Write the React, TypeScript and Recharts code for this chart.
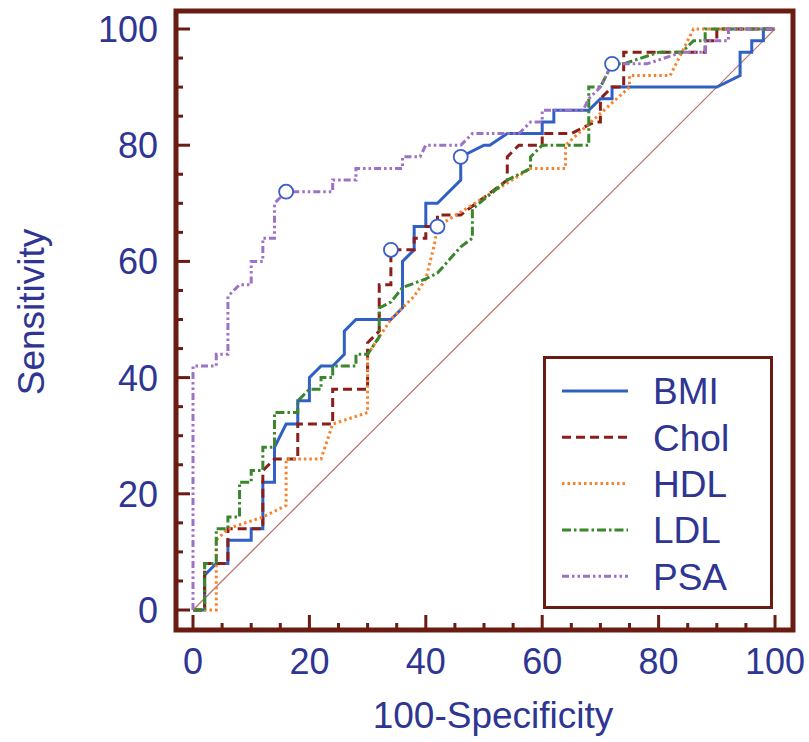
import React from 'react';
import { ComposedChart, Line, XAxis, YAxis, ReferenceLine, ReferenceArea, Legend } from 'recharts';

// ---- data ----
const bmiPoints = [[0,0],[2,0],[2,6],[4,8],[6,8],[6,12],[10,12],[10,14],[12,14],[12,22],[14,22],[14,28],[16,32],[18,32],[18,36],[20,36],[20,40],[22,42],[24,42],[26,44],[26,48],[28,50],[34,50],[36,52],[36,60],[38,62],[38,66],[40,66],[40,70],[42,70],[46,74],[46,78],[50,80],[51,80],[54,82],[60,82],[60,84],[62,84],[62,86],[68,86],[70,88],[72,88],[72,90],[90,90],[94,92],[94,96],[96,96],[96,98],[98,98],[98,100],[100,100]];
const cholPoints = [[0,0],[2,0],[2,8],[6,8],[6,14],[12,14],[12,24],[14,26],[18,26],[18,32],[24,32],[24,38],[30,38],[30,46],[32,48],[32,56],[34,56],[34,62],[38,62],[38,64],[40,64],[40,66],[42,66],[42,68],[46,68],[54,74],[54,78],[56,80],[60,80],[60,82],[65,82],[69,84],[70,84],[70,88],[72,90],[74,90],[74,96],[88,96],[88,98],[90,98],[90,100],[100,100]];
const hdlPoints = [[0,0],[4,0],[4,12],[6,14],[12,16],[16,18],[16,26],[22,26],[24,32],[30,34],[30,44],[34,50],[38,54],[40,57],[41.5,63],[42,66],[58,76],[64,76],[64,80],[75,90],[75,92],[82,92],[86,100],[100,100]];
const ldlPoints = [[0,0],[2,0],[2,8],[4,8],[4,14],[6,14],[6,16],[8,16],[8,22],[10,22],[10,24],[12,24],[12,28],[14,28],[14,34],[18,34],[18,36],[20,38],[22,38],[22,40],[24,40],[24,42],[28,42],[28,44],[30,44],[32,47],[32,52],[34,53],[36,55.5],[40,57],[42,58],[46,62.5],[48,64],[48,69],[54,74],[58,76],[58,78],[60,80],[68,80],[68,90],[70,90],[72,94],[74,94],[80,96],[84,96],[86,98],[88,98],[88,100],[100,100]];
const psaPoints = [[0,0],[0,42],[4,42],[4,44],[6,44],[6,54],[8,56],[10,56],[10,60],[12,60],[12,64],[14,64],[14,70],[16,72],[24,72],[24,74],[28,74],[28,76],[36,76],[36,78],[39,78],[40,80],[46,80],[48,82],[56,82],[58,84],[60,84],[60,86],[67,86],[68,88],[70,90],[72,94],[78,94],[84,96],[88,96],[88,98],[92,98],[92,100],[100,100]];
const cutoffPoints = [[16,72],[34,62],[42,66],[46,78],[72,94]];

const seriesNames = ['BMI', 'Chol', 'HDL', 'LDL', 'PSA'];
const axisTicks = [0,5,10,15,20,25,30,35,40,45,50,55,60,65,70,75,80,85,90,95,100];
const labelTicks = [0,20,40,60,80,100];

const toXY = (a: number[][]) => a.map(([x, y]) => ({ x, y }));

// ---- styles ----
const FONT = '"Liberation Sans", Arial, Helvetica, sans-serif';
const TEXT = '#2e3592';
const FRAME = '#6a1b12';
const X_DOMAIN: [number, number] = [-2.92, 103.09];
const Y_DOMAIN: [number, number] = [-3.44, 103.1];

const styles: Record<string, { color: string; width: number; dash?: string }> = {
  BMI: { color: '#3160c4', width: 3 },
  Chol: { color: '#8a1e1a', width: 3, dash: '9 5' },
  HDL: { color: '#f7822c', width: 3, dash: '2.5 3' },
  LDL: { color: '#3a862c', width: 3, dash: '9 3 2.5 3' },
  PSA: { color: '#9c72c8', width: 3, dash: '7 3 2.5 3 2.5 3' },
};

const seriesData: Record<string, { x: number; y: number }[]> = {
  BMI: toXY(bmiPoints),
  Chol: toXY(cholPoints),
  HDL: toXY(hdlPoints),
  LDL: toXY(ldlPoints),
  PSA: toXY(psaPoints),
};

const XTick = (props: any) => {
  const { x, y, payload } = props;
  const v = payload.value;
  const major = labelTicks.includes(v);
  return (
    <g>
      <line x1={x} y1={y} x2={x} y2={y - (major ? 15 : 7)} stroke={FRAME} strokeWidth={3} />
      {major && (
        <text x={x} y={y + 44} textAnchor="middle" fontSize={36} fill={TEXT} fontFamily={FONT}>
          {v}
        </text>
      )}
    </g>
  );
};

const YTick = (props: any) => {
  const { x, y, payload } = props;
  const v = payload.value;
  const major = labelTicks.includes(v);
  return (
    <g>
      <line x1={x} y1={y} x2={x + (major ? 14 : 7)} y2={y} stroke={FRAME} strokeWidth={3} />
      {major && (
        <text x={x - 18} y={y} dy="0.36em" textAnchor="end" fontSize={36} fill={TEXT} fontFamily={FONT}>
          {v}
        </text>
      )}
    </g>
  );
};

const renderLegend = () => (
  <div
    style={{
      width: 230,
      height: 253,
      boxSizing: 'border-box',
      border: `3px solid ${FRAME}`,
      background: '#fff',
    }}
  >
    <svg width={224} height={247} style={{ display: 'block' }}>
      {seriesNames.map((n, i) => {
        const s = styles[n];
        const cy = 32 + i * 46.3;
        return (
          <g key={n}>
            <line x1={16} x2={82} y1={cy} y2={cy} stroke={s.color} strokeWidth={s.width} strokeDasharray={s.dash} />
            <text x={107} y={cy} dy="0.36em" fontSize={37} fill={TEXT} fontFamily={FONT}>
              {n}
            </text>
          </g>
        );
      })}
    </svg>
  </div>
);

export default function App() {
  return (
    <div style={{ position: 'absolute', left: 0, top: 0, background: '#fff' }}>
      <ComposedChart width={809} height={742} margin={{ top: 11, right: 16, bottom: 0, left: 0 }}>
        <XAxis
          type="number"
          dataKey="x"
          domain={X_DOMAIN}
          allowDataOverflow
          ticks={axisTicks}
          interval={0}
          tick={<XTick />}
          tickSize={0}
          tickMargin={0}
          tickLine={false}
          axisLine={false}
          height={112}
          label={{
            content: () => (
              <text x={493} y={728} textAnchor="middle" fontSize={37} fill={TEXT} fontFamily={FONT}>
                100-Specificity
              </text>
            ),
          }}
        />
        <YAxis
          type="number"
          domain={Y_DOMAIN}
          allowDataOverflow
          ticks={axisTicks}
          interval={0}
          tick={<YTick />}
          tickSize={0}
          tickMargin={0}
          tickLine={false}
          axisLine={false}
          width={176}
          label={{
            content: () => (
              <text
                x={44}
                y={312}
                transform="rotate(-90 44 312)"
                textAnchor="middle"
                fontSize={37}
                fill={TEXT}
                fontFamily={FONT}
              >
                Sensitivity
              </text>
            ),
          }}
        />
        <ReferenceArea
          x1={X_DOMAIN[0]}
          x2={X_DOMAIN[1]}
          y1={Y_DOMAIN[0]}
          y2={Y_DOMAIN[1]}
          fill="none"
          fillOpacity={0}
          stroke={FRAME}
          strokeWidth={5}
        />
        <ReferenceLine
          segment={[{ x: 0, y: 0 }, { x: 100, y: 100 }]}
          stroke="#b8706a"
          strokeWidth={1.2}
        />
        <Legend
          layout="vertical"
          align="center"
          verticalAlign="middle"
          content={renderLegend}
          wrapperStyle={{ position: 'absolute', left: 543, top: 356, width: 230, height: 253 }}
        />
        {seriesNames.map((n) => (
          <Line
            key={n}
            name={n}
            data={seriesData[n]}
            dataKey="y"
            type="linear"
            stroke={styles[n].color}
            strokeWidth={styles[n].width}
            strokeDasharray={styles[n].dash}
            dot={false}
            activeDot={false}
            isAnimationActive={false}
          />
        ))}
        <Line
          name="cutoff"
          data={toXY(cutoffPoints)}
          dataKey="y"
          type="linear"
          stroke="none"
          strokeWidth={0}
          legendType="none"
          dot={{ r: 7, stroke: '#3a5fc8', strokeWidth: 1.8, fill: '#fff' }}
          activeDot={false}
          isAnimationActive={false}
        />
      </ComposedChart>
    </div>
  );
}
